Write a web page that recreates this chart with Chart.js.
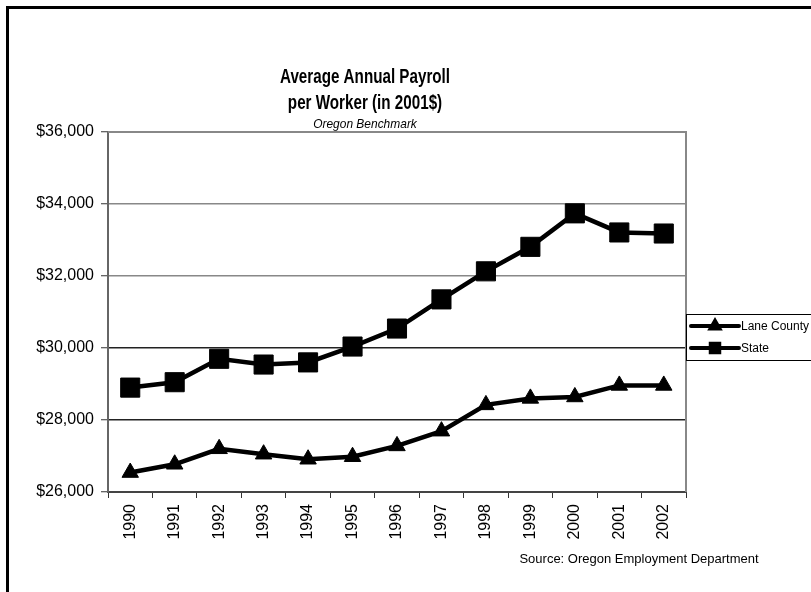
<!DOCTYPE html>
<html>
<head>
<meta charset="utf-8">
<script src="https://cdn.jsdelivr.net/npm/chart.js@4.4.1/dist/chart.umd.min.js"></script>
<style>
  html, body { margin: 0; padding: 0; background: #fff; }
  #wrap { position: absolute; left: 0; top: 0; width: 811px; height: 592px; }
</style>
</head>
<body>
<div id="wrap"><canvas id="c" width="811" height="592"></canvas></div>
<script>
const years = ['1990','1991','1992','1993','1994','1995','1996','1997','1998','1999','2000','2001','2002'];
const laneCounty = [26540, 26770, 27200, 27050, 26910, 26980, 27280, 27690, 28420, 28600, 28640, 28960, 28960];
const stateValues = [28900, 29050, 29700, 29540, 29600, 30040, 30540, 31350, 32130, 32810, 33740, 33210, 33180];
const yTicks = [26000, 28000, 30000, 32000, 34000, 36000];
const titleLines = ['Average Annual Payroll', 'per Worker (in 2001$)'];
const subtitleText = 'Oregon Benchmark';
const sourceText = 'Source: Oregon Employment Department';
const seriesNames = ['Lane County', 'State'];

const FONT = "'Liberation Sans', Arial, sans-serif";

function narrowText(ctx, text, x, y, sx) {
  ctx.save();
  ctx.translate(x, y);
  ctx.scale(sx, 1);
  ctx.fillText(text, 0, 0);
  ctx.restore();
}

const decor = {
  id: 'decor',
  beforeDraw(chart) {
    const ctx = chart.ctx;
    ctx.save();
    ctx.fillStyle = '#fff';
    ctx.fillRect(0, 0, chart.width, chart.height);
    ctx.strokeStyle = '#000';
    ctx.lineWidth = 3;
    ctx.strokeRect(7.5, 7.5, 900, 700);
    ctx.restore();
  },
  afterDatasetsDraw(chart) {
    const ctx = chart.ctx;
    const a = chart.chartArea;
    ctx.save();
    ctx.strokeStyle = '#888';
    ctx.lineWidth = 2;
    ctx.beginPath();
    ctx.moveTo(a.left, a.top);
    ctx.lineTo(a.right, a.top);
    ctx.lineTo(a.right, a.bottom);
    ctx.stroke();
    ctx.restore();
  },
  afterDraw(chart) {
    const ctx = chart.ctx;
    ctx.save();
    ctx.fillStyle = '#000';
    ctx.textAlign = 'center';
    ctx.textBaseline = 'middle';
    ctx.font = 'bold 20px ' + FONT;
    narrowText(ctx, titleLines[0], 365, 77, 0.76);
    narrowText(ctx, titleLines[1], 365, 103, 0.76);
    ctx.font = 'italic 13px ' + FONT;
    narrowText(ctx, subtitleText, 365, 124, 0.92);
    ctx.font = '13px ' + FONT;
    ctx.fillText(sourceText, 639, 559);
    // Legend
    const lx = 686, ly = 314, lh = 46;
    ctx.fillStyle = '#fff';
    ctx.fillRect(lx, ly, 200, lh);
    ctx.strokeStyle = '#000';
    ctx.lineWidth = 1;
    ctx.strokeRect(lx + 0.5, ly + 0.5, 200, lh);
    const styles = ['triangle', 'rect'];
    for (let i = 0; i < seriesNames.length; i++) {
      const ry = ly + 12 + i * 22;
      ctx.strokeStyle = '#000';
      ctx.lineWidth = 4;
      ctx.lineCap = 'round';
      ctx.beginPath();
      ctx.moveTo(691, ry);
      ctx.lineTo(739, ry);
      ctx.stroke();
      ctx.fillStyle = '#000';
      Chart.helpers.drawPoint(ctx, {pointStyle: styles[i], radius: styles[i] === 'rect' ? 6 : 5, rotation: 0, borderWidth: 1}, 715, ry);
      ctx.fill();
      ctx.fillStyle = '#000';
      ctx.textAlign = 'left';
      ctx.textBaseline = 'middle';
      ctx.font = '12px ' + FONT;
      ctx.fillText(seriesNames[i], 741, ry + 1);
    }
    ctx.restore();
  }
};

const gridColor = (ctx) => {
  const v = ctx.tick ? ctx.tick.value : null;
  if (v === 30000 || v === 28000) return '#222';
  if (v === 26000) return 'rgba(0,0,0,0)';
  return '#888';
};

new Chart(document.getElementById('c'), {
  type: 'line',
  data: {
    labels: years,
    datasets: [
      {
        label: seriesNames[0],
        data: laneCounty,
        borderColor: '#000',
        backgroundColor: '#000',
        borderWidth: 4.5,
        pointStyle: 'triangle',
        pointRadius: 9.5,
        pointBorderWidth: 1,
        pointBackgroundColor: '#000',
        pointBorderColor: '#000',
        tension: 0
      },
      {
        label: seriesNames[1],
        data: stateValues,
        borderColor: '#000',
        backgroundColor: '#000',
        borderWidth: 4.5,
        pointStyle: 'rect',
        pointRadius: 13.5,
        pointBorderWidth: 1,
        pointBackgroundColor: '#000',
        pointBorderColor: '#000',
        tension: 0
      }
    ]
  },
  options: {
    responsive: false,
    animation: false,
    devicePixelRatio: 1,
    layout: { padding: { top: 132, left: 0, right: 125, bottom: 0 } },
    plugins: {
      legend: { display: false },
      title: { display: false },
      tooltip: { enabled: false }
    },
    scales: {
      x: {
        type: 'category',
        offset: true,
        afterFit(scale) { scale.height = 100; },
        grid: {
          offset: true,
          drawOnChartArea: false,
          drawTicks: true,
          tickLength: 6,
          tickColor: '#333',
          tickWidth: 1
        },
        border: { color: '#444', width: 2 },
        ticks: {
          minRotation: 90,
          maxRotation: 90,
          padding: 6,
          color: '#000',
          font: { family: FONT, size: 16 }
        }
      },
      y: {
        min: yTicks[0],
        max: yTicks[yTicks.length - 1],
        afterFit(scale) { scale.width = 108; },
        afterBuildTicks(scale) { scale.ticks = yTicks.map(v => ({ value: v })); },
        grid: {
          color: gridColor,
          lineWidth: 1.5,
          drawTicks: true,
          tickLength: 7,
          tickColor: '#333',
          tickWidth: 1
        },
        border: { color: '#666', width: 2 },
        ticks: {
          padding: 7,
          color: '#000',
          font: { family: FONT, size: 16 },
          callback: (v) => '$' + Number(v).toLocaleString('en-US')
        }
      }
    }
  },
  plugins: [decor]
});
</script>
</body>
</html>
